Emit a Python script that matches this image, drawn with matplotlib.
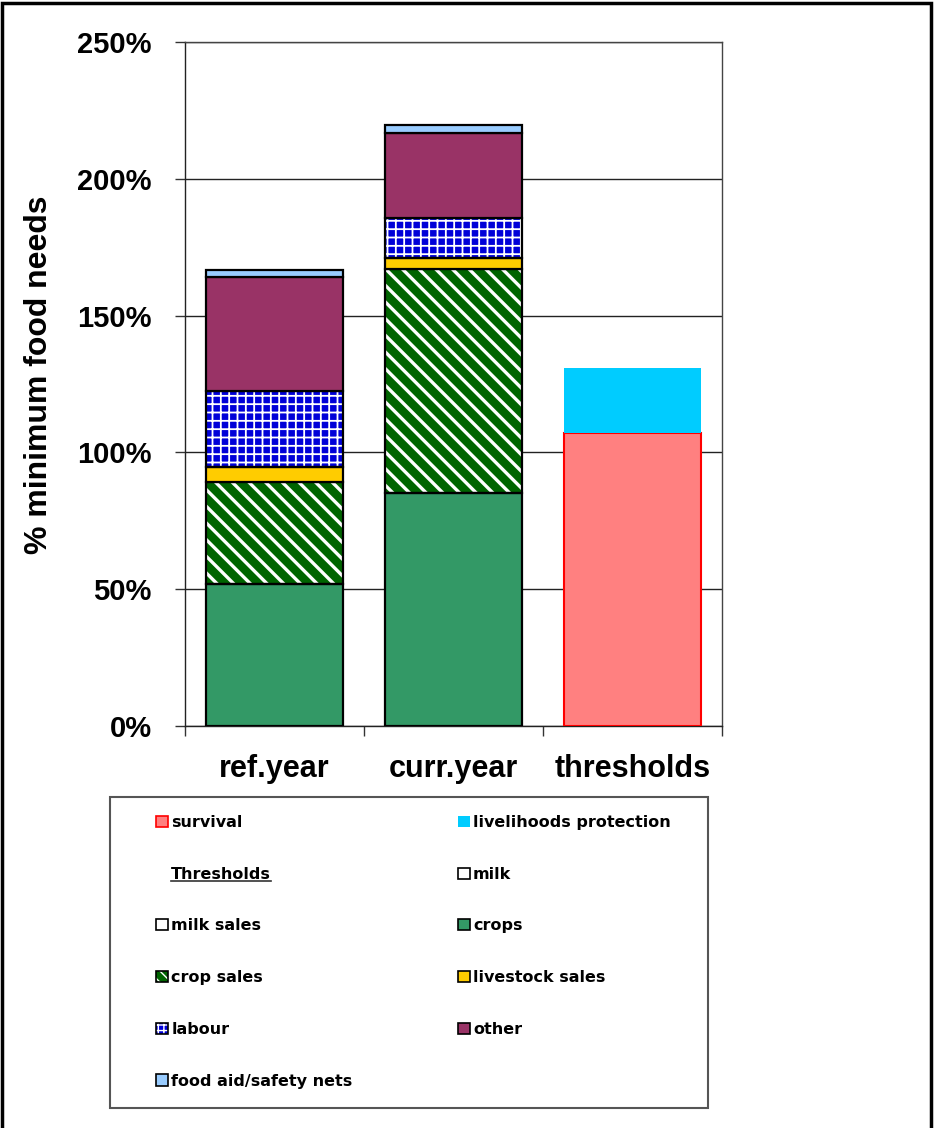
import matplotlib
matplotlib.use("Agg")
import matplotlib.pyplot as plt
from matplotlib.patches import Patch, Rectangle
from matplotlib.lines import Line2D
import numpy as np

# ---------------- data ----------------
categories = ["ref.year", "curr.year", "thresholds"]
milk = [0, 0, 0]
milk_sales = [0, 0, 0]
crops = [52, 85, 0]
crop_sales = [37, 82, 0]
livestock_sales = [5.6, 4.2, 0]
labour = [28, 14.4, 0]
other = [41.4, 31, 0]
food_aid = [2.5, 3, 0]
survival = [0, 0, 107]
livelihoods = [0, 0, 24]
yticks = [0, 50, 100, 150, 200, 250]
ytick_labels = ["0%", "50%", "100%", "150%", "200%", "250%"]

W, H = 934, 1128
fig = plt.figure(figsize=(W / 100, H / 100), dpi=100)
ax = fig.add_axes([185 / W, 1 - 726 / H, (722 - 185) / W, (726 - 42) / H])

x = np.arange(len(categories))
bw = 0.77
AX_FONT = "Liberation Sans"

stack = [
    ("milk", milk, dict(fc="white", hatch=None)),
    ("milk sales", milk_sales, dict(fc="white", hatch=None)),
    ("crops", crops, dict(fc="#339966", hatch=None)),
    ("crop sales", crop_sales, dict(fc="#006400", hatch="\\\\", hlw=2.4)),
    ("livestock sales", livestock_sales, dict(fc="#FFCC00", hatch=None)),
    ("labour", labour, dict(fc="#0000D8", hatch="++", hlw=1.3)),
    ("other", other, dict(fc="#993366", hatch=None)),
    ("food aid/safety nets", food_aid, dict(fc="#99CCFF", hatch=None)),
]

bottom = np.zeros(len(categories))
idx = np.array([0, 1])
for name, vals, st in stack:
    v = np.array(vals, dtype=float)
    sel = idx[v[idx] > 0]
    if len(sel):
        if st["hatch"]:
            bars = ax.bar(x[sel], v[sel], bw, bottom=bottom[sel], color=st["fc"],
                          edgecolor="white", hatch=st["hatch"], linewidth=0, zorder=3)
            for b in bars:
                if hasattr(b, "set_hatch_linewidth"):
                    b.set_hatch_linewidth(st["hlw"])
            ax.bar(x[sel], v[sel], bw, bottom=bottom[sel], fill=False,
                   edgecolor="black", linewidth=1.6, zorder=4)
        else:
            ax.bar(x[sel], v[sel], bw, bottom=bottom[sel], color=st["fc"],
                   edgecolor="black", linewidth=1.6, zorder=4)
    bottom = bottom + v

# thresholds bar
ax.bar(x[2], survival[2], bw, bottom=0, color="#FF8080", edgecolor="#FF0000",
       linewidth=1.5, zorder=3)
ax.bar(x[2], livelihoods[2], bw, bottom=survival[2], color="#00CCFF",
       edgecolor="none", linewidth=0, zorder=3)

ax.set_xlim(-0.5, 2.5)
ax.set_ylim(0, 250)
ax.set_yticks(yticks)
ax.set_yticklabels(ytick_labels, fontfamily=AX_FONT, fontweight="bold", fontsize=21)
ax.set_xticks(x)
ax.set_xticklabels(categories, fontfamily=AX_FONT, fontweight="bold", fontsize=22)
ax.set_xticks([-0.5, 0.5, 1.5, 2.5], minor=True)
ax.tick_params(axis="x", which="major", length=0, pad=20)
ax.tick_params(axis="x", which="minor", length=7, width=1, color="#333333", direction="out")
ax.tick_params(axis="y", which="major", length=7, width=1, color="#333333", pad=17,
               direction="out")
ax.yaxis.grid(True, color="#222222", linewidth=1, zorder=0)
ax.set_axisbelow(True)
for s in ax.spines.values():
    s.set_color("#444444")
    s.set_linewidth(1.0)
ax.spines["left"].set_color("#222222")
ax.spines["bottom"].set_color("#222222")

fig.text(39 / W, 1 - 375 / H, "% minimum food needs", rotation=90, ha="center",
         va="center", fontfamily=AX_FONT, fontweight="bold", fontsize=23)

# ---------------- legend ----------------
def ph(fc, ec="black"):
    return Patch(facecolor=fc, edgecolor=ec, linewidth=1.2)

def hatched(fc, hatch):
    return (Patch(facecolor=fc, edgecolor="white", hatch=hatch, linewidth=0),
            Patch(fill=False, edgecolor="black", linewidth=1.2))

blank = Patch(facecolor="none", edgecolor="none")
handles = [
    ph("#FF8080", "#FF0000"), blank, ph("white"), hatched("#006400", "\\\\\\"),
    hatched("#0000D8", "+++"), ph("#99CCFF"),
    ph("#00CCFF", "none"), ph("white"), ph("#339966"), ph("#FFCC00"), ph("#993366"),
]
labels = [
    "survival", "Thresholds", "milk sales", "crop sales", "labour", "food aid/safety nets",
    "livelihoods protection", "milk", "crops", "livestock sales", "other",
]
leg = fig.legend(handles, labels, ncol=2, loc="upper left",
                 bbox_to_anchor=(156 / W, 1 - 815 / H),
                 frameon=False, borderpad=0, borderaxespad=0,
                 prop=dict(family="DejaVu Sans", weight="bold", size=11.5),
                 handlelength=0.75, handleheight=0.7, handletextpad=0.2,
                 labelspacing=2.3, columnspacing=6.6)

fig.patches.append(Rectangle((110 / W, 1 - 1108 / H), (708 - 110) / W, (1108 - 797) / H,
                             transform=fig.transFigure, fill=False, edgecolor="#555555",
                             linewidth=1.5, zorder=1))
# figure border
fig.patches.append(Rectangle((1.5 / W, -0.01), (931 - 1.5) / W, 1 - 3 / H + 0.01,
                             transform=fig.transFigure, fill=False, edgecolor="black",
                             linewidth=2.5))

# underline "Thresholds"
fig.canvas.draw()
t = leg.get_texts()[1]
bb = t.get_window_extent(renderer=fig.canvas.get_renderer())
fig.add_artist(Line2D([bb.x0 / W, bb.x1 / W], [(bb.y0 + 1) / H, (bb.y0 + 1) / H],
                      transform=fig.transFigure, color="#333333", linewidth=1.2))

fig.savefig("out.png", dpi=100)
